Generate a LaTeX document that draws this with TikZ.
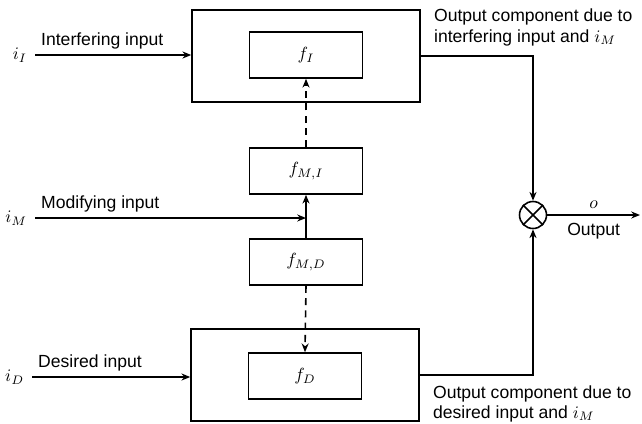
\documentclass[tikz,border=0pt]{standalone}
\usepackage{fontspec}
\setmainfont{Liberation Sans}
\usetikzlibrary{positioning,calc,arrows.meta}

\begin{document}
\begin{tikzpicture}[x=0.02cm, y=-0.02cm,
  outerbox/.style={draw, line width=0.9pt, minimum width=4.56cm, minimum height=1.84cm},
  innerbox/.style={draw, line width=0.9pt, minimum width=2.26cm, minimum height=0.92cm},
  sig/.style={line width=0.9pt, -{Stealth[length=5pt,width=4pt]}},
  modline/.style={line width=0.9pt, dashed, dash pattern=on 4pt off 3pt},
  lbl/.style={font=\normalsize},
  outlbl/.style={font={\fontsize{10}{11.5}\selectfont}, align=left, inner sep=0pt},
]
\useasboundingbox (0,0) rectangle (642,423);

% system blocks
\node[outerbox] (outI) at (306,56) {};
\node[innerbox] (fI) at (306,55) {$f_I$};
\node[innerbox] (fMI) at (306,171) {$f_{M,I}$};
\node[innerbox] (fMD) at (306,262) {$f_{M,D}$};
\node[outerbox] (outD) at (305,375) {};
\node[innerbox] (fD) at (305,376) {$f_D$};
\node[draw, circle, line width=0.9pt, minimum size=0.54cm, inner sep=0pt] (sum) at (533,215) {};
\draw[line width=0.9pt] (sum.45) -- (sum.225) (sum.135) -- (sum.315);

% inputs
\coordinate (inI) at (35,55);
\coordinate (inM) at (35,218);
\coordinate (inD) at (32,377);
\coordinate (mj) at (306,218);
\coordinate (outp) at (640,215);

\draw[sig] (inI) -- (inI -| outI.west);
\draw[sig] (inM) -- (mj);
\draw[sig] (inD) -- (inD -| outD.west);
\node[lbl, left=1pt] at (inI) {$i_I$};
\node[lbl, left=1pt] at (inM) {$i_M$};
\node[lbl, left=1pt] at (inD) {$i_D$};
\node[lbl, above right=0pt and 0pt] at (inI) {Interfering input};
\node[lbl, above right=0pt and 0pt] at (inM) {Modifying input};
\node[lbl, above right=0pt and 0pt] at (inD) {Desired input};

% modifying path
\draw[sig] (mj) -- (fMI.south);
\draw[line width=0.9pt] (mj) -- (fMD.north);
\draw[modline, -{Stealth[length=5pt,width=4pt]}] (fMI.north) -- (fI.south);
\draw[modline, -{Stealth[length=5pt,width=4pt]}] (fMD.south) -- (fD.north);

% outputs
\draw[sig] (outI.east) -| (sum.north);
\draw[sig] (outD.east) -| (sum.south);
\draw[sig] (sum.east) -- (outp);
\node[outlbl, anchor=south west] at ($(outI.east)+(13,-10)$)
  {Output component due to\\interfering input and $i_M$};
\node[outlbl, anchor=north west] at ($(outD.east)+(13,10)$)
  {Output component due to\\desired input and $i_M$};
\node[lbl, above=0pt] at ($(sum.east)!0.5!(outp)$) {$o$};
\node[lbl, below=1pt] at ($(sum.east)!0.5!(outp)$) {Output};
\end{tikzpicture}
\end{document}
